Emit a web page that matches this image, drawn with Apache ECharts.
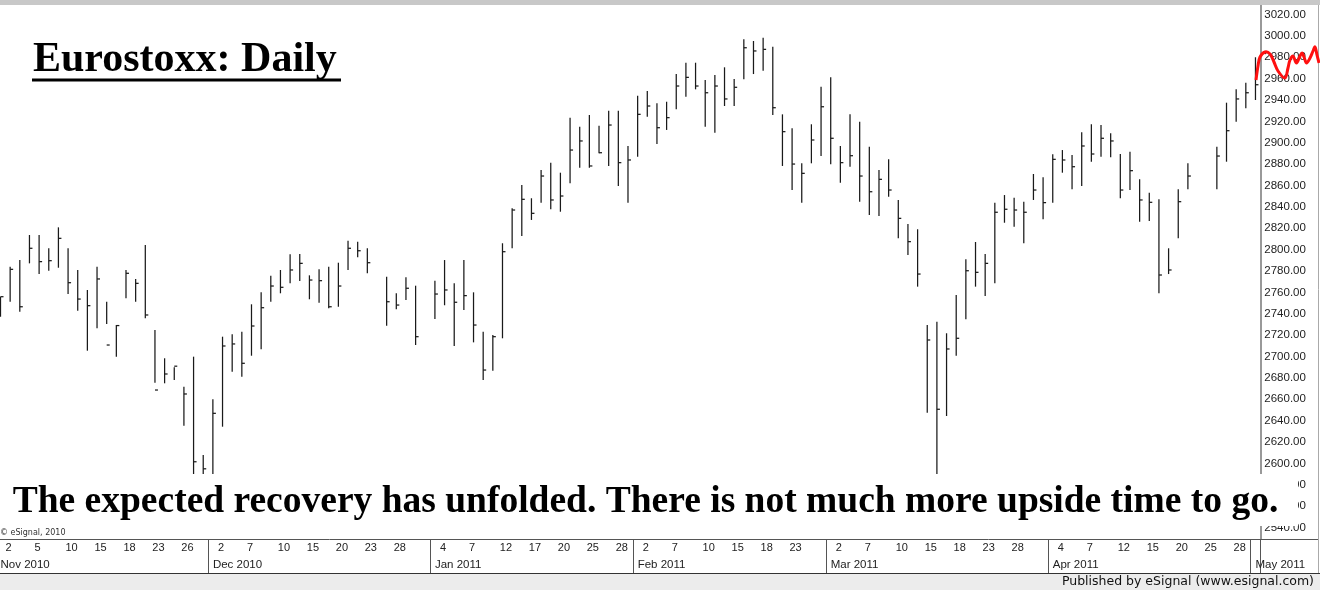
<!DOCTYPE html>
<html><head><meta charset="utf-8">
<script src="https://cdn.jsdelivr.net/npm/echarts@6/dist/echarts.min.js"></script>
<style>html,body{margin:0;padding:0;background:#fff}#c{width:1320px;height:590px}</style>
</head><body><div id="c"></div>
<script>
// Trading-day categories (weekdays, Nov 1 2010 .. May 2 2011)
const categories = [
'2010-11-01','2010-11-02','2010-11-03','2010-11-04','2010-11-05','2010-11-08','2010-11-09','2010-11-10','2010-11-11','2010-11-12',
'2010-11-15','2010-11-16','2010-11-17','2010-11-18','2010-11-19','2010-11-22','2010-11-23','2010-11-24','2010-11-25','2010-11-26',
'2010-11-29','2010-11-30',
'2010-12-01','2010-12-02','2010-12-03','2010-12-06','2010-12-07','2010-12-08','2010-12-09','2010-12-10','2010-12-13','2010-12-14',
'2010-12-15','2010-12-16','2010-12-17','2010-12-20','2010-12-21','2010-12-22','2010-12-23','2010-12-24','2010-12-27','2010-12-28',
'2010-12-29','2010-12-30','2010-12-31',
'2011-01-03','2011-01-04','2011-01-05','2011-01-06','2011-01-07','2011-01-10','2011-01-11','2011-01-12','2011-01-13','2011-01-14',
'2011-01-17','2011-01-18','2011-01-19','2011-01-20','2011-01-21','2011-01-24','2011-01-25','2011-01-26','2011-01-27','2011-01-28',
'2011-01-31',
'2011-02-01','2011-02-02','2011-02-03','2011-02-04','2011-02-07','2011-02-08','2011-02-09','2011-02-10','2011-02-11','2011-02-14',
'2011-02-15','2011-02-16','2011-02-17','2011-02-18','2011-02-21','2011-02-22','2011-02-23','2011-02-24','2011-02-25','2011-02-28',
'2011-03-01','2011-03-02','2011-03-03','2011-03-04','2011-03-07','2011-03-08','2011-03-09','2011-03-10','2011-03-11','2011-03-14',
'2011-03-15','2011-03-16','2011-03-17','2011-03-18','2011-03-21','2011-03-22','2011-03-23','2011-03-24','2011-03-25','2011-03-28',
'2011-03-29','2011-03-30','2011-03-31',
'2011-04-01','2011-04-04','2011-04-05','2011-04-06','2011-04-07','2011-04-08','2011-04-11','2011-04-12','2011-04-13','2011-04-14',
'2011-04-15','2011-04-18','2011-04-19','2011-04-20','2011-04-21','2011-04-22','2011-04-25','2011-04-26','2011-04-27','2011-04-28',
'2011-04-29',
'2011-05-02'
];

const highs = [
2756,2784.1,2790.3,2813.7,2813.7,2801.3,2820.9,2801.3,2781,2762.3,
2784.1,2751.3,2729.5,2781,2772.6,2804.4,2724.8,2698.4,2690,2671.8,
2699.9,2607.9,2660,2718.6,2720.8,2723.3,2748.9,2760.1,2775.6,2781,
2795.7,2796,2776,2781.6,2784.1,2787.8,2808.4,2807.5,2801.3,null,
2774.7,2759.2,2774.1,2766.3,null,2771,2790.3,2768.5,2790.3,2760.1,
2723.3,2720.2,2806,2838.7,2860.5,2848.1,2874.5,2881.4,2872,2923.5,
2915,2926,2916,2930,2930,2897,2944,2948.4,2936.9,2938.4,
2964.3,2974.9,2974.9,2958.7,2963.4,2970.6,2959.7,2996.8,2995.2,2998.3,
2989.9,2926.6,2913.5,2880.8,2917.3,2952.5,2961.2,2897,2926.6,2919.7,
2896.3,2874.5,2884.5,2846.5,2824,2819.1,2729.5,2732.6,2721.8,2757.6,
2791,2807.2,2796,2844,2851.1,2848.6,2844.9,2870.8,2867.7,2889.2,
2893.2,2888.6,2909.8,2917.3,2916.6,2908.9,2889.5,2891.7,2865.8,2853.3,
2847.1,2801.3,2856.5,2880.8,null,null,2896.3,2937.5,2950,2956.2,
2980
];

const lows = [
2737.3,2751.3,2742,2787.2,2777.2,2780.3,2783.1,2758.5,2742.9,2705.5,
2726.4,2730.5,2699.9,2754.5,2751.3,2735.8,2675.6,2675,2678.1,2635.3,
2580,2580,2582,2634.4,2685.8,2681.2,2700.8,2706.8,2751.3,2759.2,
2768.5,2770.7,2753.6,2750.4,2745.2,2746.6,2781,2792.9,2777.9,null,
2728.9,2744.2,2752.9,2710.8,null,2735.1,2748,2709.9,2743.6,2713.3,
2678.1,2686.8,2717.1,2801.3,2812.8,2827.8,2844,2837.8,2835.5,2862.1,
2876.7,2876.7,2890.1,2878.3,2859.6,2844,2887,2924.4,2898.9,2912,
2931.3,2943.1,2950,2915,2909.4,2934.4,2934.4,2959.4,2964.3,2967.4,
2926,2878.3,2855.8,2844,2880.8,2887.6,2879.9,2862.7,2877.6,2844.9,
2832.4,2831.5,2849.6,2810.6,2795,2765.4,2647.5,2582,2644.4,2700.8,
2734.9,2765.4,2756.7,2768.5,2825.2,2821.5,2806,2846.5,2828.4,2844,
2872,2856.5,2859.6,2882.3,2887,2886.4,2848.1,2855.8,2826.2,2826.8,
2759.2,2777.2,2810.6,2856.5,null,null,2856.5,2882.3,2919.7,2932.2,
2940
];

const closes = [
2756,2781.6,2746.6,2801.3,2788.8,2789.7,2810.6,2769.1,2753.8,2747.6,
2772.6,2710.8,2729,2777.9,2768.5,2738.9,2668.7,2683.7,2691,2665,
2601.6,2595,2646.9,2709.9,2711.8,2693.7,2728.6,2745.7,2766,2764.8,
2781,2787.2,2771.6,2771,2746.6,2766,2801.3,2799,2787.8,null,
2751.3,2748.2,2763.9,2718.6,null,2758.5,2762.3,2750.8,2757,2729.5,
2687.4,2718.6,2798.1,2837.1,2847.1,2834,2868.9,2846.5,2850.2,2893.2,
2901.7,2878.3,2890.7,2916.6,2881.4,2883.9,2926.6,2934.4,2914.1,2923.5,
2953.1,2961.2,2953.1,2946.8,2953.1,2941,2951.9,2988.9,2985.9,2987.4,
2932.8,2910.4,2880.1,2871.4,2902.6,2933.7,2904.2,2881.4,2887.9,2868.9,
2854.2,2865.8,2855.8,2829.3,2807.5,2777.2,2715.5,2650.7,2707.1,2717.1,
2780.3,2778.8,2787.2,2835,2837.8,2837.1,2835,2855.8,2844,2884.5,
2883.9,2877.6,2897,2889.5,2904.2,2901.7,2855.8,2873.9,2846.5,2844.3,
2776.3,2781,2844.9,2868.9,null,null,2887.6,2911.3,2941,2946.8,
2954.3
];

// Dates that carry a day-number label on the time axis
const dayLabelDates = [
'2010-11-02','2010-11-05','2010-11-10','2010-11-15','2010-11-18','2010-11-23','2010-11-26',
'2010-12-02','2010-12-07','2010-12-10','2010-12-15','2010-12-20','2010-12-23','2010-12-28',
'2011-01-04','2011-01-07','2011-01-12','2011-01-17','2011-01-20','2011-01-25','2011-01-28',
'2011-02-02','2011-02-07','2011-02-10','2011-02-15','2011-02-18','2011-02-23',
'2011-03-02','2011-03-07','2011-03-10','2011-03-15','2011-03-18','2011-03-23','2011-03-28',
'2011-04-04','2011-04-07','2011-04-12','2011-04-15','2011-04-20','2011-04-25','2011-04-28'
];
const monthStartDates = ['2010-11-01','2010-12-01','2011-01-03','2011-02-01','2011-03-01','2011-04-01','2011-05-02'];
const monthLabels = ['Nov 2010','Dec 2010','Jan 2011','Feb 2011','Mar 2011','Apr 2011','May 2011'];

const titleText = 'Eurostoxx: Daily';
const noteText = 'The expected recovery has unfolded. There is not much more upside time to go.';

const daySet = new Set(dayLabelDates);
const monthMap = {};
monthStartDates.forEach((d, i) => monthMap[d] = monthLabels[i]);

const barData = [];
for (let i = 0; i < categories.length; i++) {
  if (highs[i] != null) barData.push([i, highs[i], lows[i], closes[i]]);
}

const chart = echarts.init(document.getElementById('c'), null, {renderer: 'canvas'});
const axisFont = 'Liberation Sans, Arial, sans-serif';

chart.setOption({
  animation: false,
  backgroundColor: '#ffffff',
  grid: {left: -4.33, right: 59.7, top: 14.5, bottom: 62.4, containLabel: false, outerBoundsMode: 'none'},
  xAxis: [{
    type: 'category', data: categories, boundaryGap: true, position: 'bottom', offset: 11.4,
    axisLine: {show: false},
    axisTick: {show: true, interval: (i, v) => !!monthMap[v], length: 34, lineStyle: {color: '#555', width: 1}},
    axisLabel: {
      interval: (i, v) => daySet.has(v),
      formatter: v => { const d = +v.slice(8); return d < 10 ? '{s|' + d + '}' : '{d|' + d + '}'; },
      margin: 3, color: '#222', fontSize: 11, fontFamily: axisFont,
      rich: {
        s: {padding: [0, 3, 0, 0], fontSize: 11, fontFamily: axisFont, color: '#222'},
        d: {padding: [0, 0, 0, 7], fontSize: 11, fontFamily: axisFont, color: '#222'}
      }
    },
    splitLine: {show: false}
  }, {
    type: 'category', data: categories, boundaryGap: true, position: 'bottom', offset: 11.4,
    axisLine: {show: false}, axisTick: {show: false}, splitLine: {show: false},
    axisLabel: {
      interval: (i, v) => !!monthMap[v],
      formatter: v => monthMap[v] || '',
      align: 'left', margin: 19.5, color: '#222', fontSize: 11.5, fontFamily: axisFont
    }
  }],
  yAxis: {
    type: 'value', position: 'right', min: 2540, max: 3020, interval: 20,
    axisLine: {show: false}, axisTick: {show: false}, splitLine: {show: false},
    axisLabel: {formatter: v => v.toFixed(2), margin: 4, align: 'left', color: '#222', fontSize: 11.5, fontFamily: axisFont}
  },
  series: [{
    type: 'custom',
    data: barData,
    encode: {x: 0, y: [1, 2, 3]},
    renderItem: function (params, api) {
      const i = api.value(0);
      const top = api.coord([i, api.value(1)]);
      const bot = api.coord([i, api.value(2)]);
      const cl = api.coord([i, api.value(3)]);
      const st = {stroke: '#1a1a1a', lineWidth: 1.25};
      return {
        type: 'group',
        children: [
          {type: 'line', shape: {x1: top[0], y1: top[1], x2: bot[0], y2: bot[1]}, style: st},
          {type: 'line', shape: {x1: cl[0], y1: cl[1], x2: cl[0] + 3, y2: cl[1]}, style: st}
        ]
      };
    }
  }],
  graphic: [
    {type: 'rect', shape: {x: 0, y: 0, width: 1320, height: 5}, style: {fill: '#c8c8c8'}, z: 10},
    {type: 'line', shape: {x1: 1261, y1: 5, x2: 1261, y2: 539}, style: {stroke: '#999', lineWidth: 2}, z: 10},
    {type: 'line', shape: {x1: 1318.5, y1: 5, x2: 1318.5, y2: 574}, style: {stroke: '#aaa', lineWidth: 1}, z: 10},
    {type: 'line', shape: {x1: 0, y1: 539.5, x2: 1318, y2: 539.5}, style: {stroke: '#555', lineWidth: 1}, z: 10},
    {type: 'line', shape: {x1: 0, y1: 573.5, x2: 1320, y2: 573.5}, style: {stroke: '#333', lineWidth: 1}, z: 10},
    {type: 'rect', shape: {x: 0, y: 574, width: 1320, height: 16}, style: {fill: '#ececec'}, z: 10},
    {type: 'text', x: 1314, y: 581.5, style: {text: 'Published by eSignal (www.esignal.com)', textAlign: 'right', textVerticalAlign: 'middle', font: '12.5px "DejaVu Sans", sans-serif', fill: '#111'}, z: 11},
    {type: 'text', x: 0, y: 533, style: {text: '\u00a9 eSignal, 2010', textAlign: 'left', textVerticalAlign: 'middle', font: '8px "DejaVu Sans", sans-serif', fill: '#333'}, z: 11},
    {type: 'rect', shape: {x: 0, y: 474, width: 1298, height: 52}, style: {fill: '#ffffff'}, z: 50},
    {type: 'text', x: 645.5, y: 502, style: {text: noteText, textAlign: 'center', textVerticalAlign: 'middle', font: 'bold 37.5px "Liberation Serif", "Times New Roman", serif', fill: '#000'}, z: 51},
    {type: 'text', x: 33, y: 60, style: {text: titleText, textAlign: 'left', textVerticalAlign: 'middle', font: 'bold 42px "Liberation Serif", "Times New Roman", serif', fill: '#000'}, z: 51},
    {type: 'rect', shape: {x: 32, y: 78.5, width: 309, height: 3}, style: {fill: '#000'}, z: 51},
    {type: 'polyline', shape: {smooth: 0.35, points: [[1256,80],[1258,66],[1260,57],[1265,52],[1270,54],[1274,62],[1278,71],[1285,78],[1288,68],[1290,60],[1293,56],[1296.5,63],[1300,56],[1302,53],[1304,57],[1306.5,63],[1310,58],[1313,51],[1315,47],[1317,55],[1319,63]]}, style: {stroke: '#ff1010', lineWidth: 3, fill: null}, z: 60}
  ]
});
</script>
</body></html>
